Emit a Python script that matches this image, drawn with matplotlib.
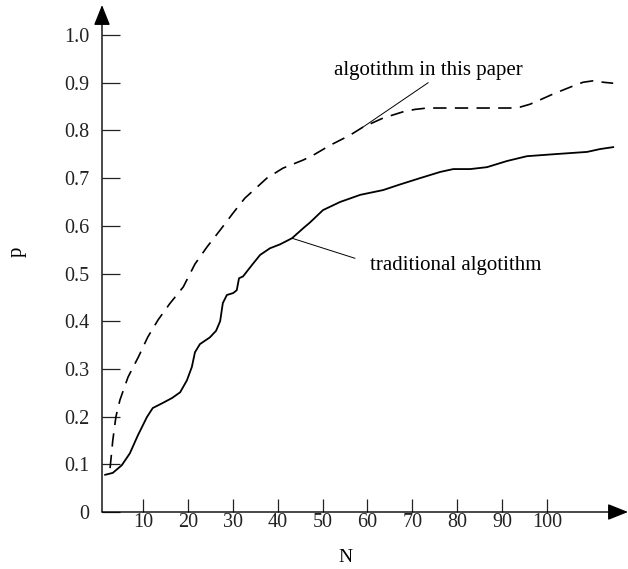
import matplotlib
matplotlib.use('Agg')
import matplotlib.pyplot as plt

plt.rcParams['font.family'] = ['Liberation Serif', 'DejaVu Serif']

# curve: algorithm in this paper (dashed)
n_paper = [2.7, 3.3, 4.0, 4.9, 6.7, 9.0, 11.1, 13.4, 16.0, 19.0, 21.6, 24.3, 27.2, 30.1,
           32.7, 35.4, 37.6, 41.2, 45.7, 47.9, 51.7, 56.1, 59.0, 63.5, 67.9, 70.5, 73.3,
           80.6, 88.9, 91.8, 94.0, 96.2, 98.4, 101.0, 103.6, 106.0, 108.0, 110.2, 112.5, 114.7]
p_paper = [0.092, 0.150, 0.200, 0.235, 0.283, 0.325, 0.367, 0.403, 0.437, 0.472, 0.520, 0.556, 0.591, 0.627,
           0.658, 0.681, 0.700, 0.721, 0.738, 0.748, 0.769, 0.790, 0.807, 0.826, 0.839, 0.844, 0.847,
           0.847, 0.847, 0.847, 0.849, 0.855, 0.864, 0.875, 0.885, 0.894, 0.901, 0.904, 0.901, 0.899]

# traditional algorithm (solid)
n_trad = [1.6, 3.3, 5.3, 7.1, 8.9, 10.9, 12.2, 14.3, 16.5, 18.3, 19.8, 20.9, 21.6, 22.7,
          24.9, 26.3, 27.2, 27.8, 28.7, 30.1, 30.9, 31.4, 32.3, 34.3, 36.1, 38.3, 40.5, 43.2,
          45.7, 47.2, 50.1, 53.9, 58.4, 63.5, 67.0, 71.7, 76.2, 79.1, 82.9, 86.6, 91.1, 95.5,
          101.3, 108.9, 111.8, 114.7]
p_trad = [0.078, 0.082, 0.098, 0.123, 0.161, 0.199, 0.218, 0.228, 0.239, 0.251, 0.276, 0.304, 0.335, 0.352,
          0.366, 0.380, 0.400, 0.438, 0.455, 0.459, 0.465, 0.490, 0.494, 0.518, 0.539, 0.553, 0.561, 0.574,
          0.595, 0.607, 0.633, 0.650, 0.665, 0.675, 0.686, 0.700, 0.713, 0.719, 0.719, 0.723, 0.736, 0.746,
          0.750, 0.755, 0.761, 0.765]

x_ticks = [10, 20, 30, 40, 50, 60, 70, 80, 90, 100]
y_ticks = [0, 0.1, 0.2, 0.3, 0.4, 0.5, 0.6, 0.7, 0.8, 0.9, 1.0]
y_labels = ['0', '0.1', '0.2', '0.3', '0.4', '0.5', '0.6', '0.7', '0.8', '0.9', '1.0']

fig = plt.figure(figsize=(6.28, 5.69), dpi=100)
ax = fig.add_axes([102/628, 57/569, 526/628, 507/569])
xmin, xmax = 0.9, 118.0
ymin, ymax = 0.0, 1.063
ax.set_xlim(xmin, xmax)
ax.set_ylim(ymin, ymax)
for s in ax.spines.values():
    s.set_visible(False)

ax.plot(n_trad, p_trad, color='black', lw=1.3, solid_joinstyle='round')
ax.plot(n_paper, p_paper, color='black', lw=1.2, dashes=(8, 5))

# axes with arrow heads
arr = dict(arrowstyle='-|>,head_length=1.25,head_width=0.5', color='black', lw=1.0,
           shrinkA=0, shrinkB=0, mutation_scale=10)
ax.annotate('', xy=(xmax, 0), xytext=(xmin, 0), arrowprops=arr, annotation_clip=False)
ax.annotate('', xy=(xmin, ymax), xytext=(xmin, 0), arrowprops=arr, annotation_clip=False)

ax.set_xticks(x_ticks)
ax.set_xticklabels([str(v) for v in x_ticks])
ax.set_yticks(y_ticks)
ax.set_yticklabels(y_labels)
ax.tick_params(axis='y', direction='in', length=13, width=0.9, pad=9, labelsize=14.5, colors='#222222')
ax.tick_params(axis='x', direction='in', length=9.5, width=0.9, pad=1, labelsize=14.5, colors='#222222')

# callouts
ax.plot([59.0, 73.5], [0.807, 0.900], color='black', lw=0.7)
ax.text(73.5, 0.925, 'algotithm in this paper', ha='center', va='center', fontsize=15)
ax.plot([43.2, 57.2], [0.574, 0.532], color='black', lw=0.7)
ax.text(60.6, 0.516, 'traditional algotithm', ha='left', va='center', fontsize=15)

fig.text(17/628, 1 - 252/569, 'p', rotation=90, ha='center', va='center', fontsize=15)
fig.text(345/628, 1 - 558/569, 'N', ha='center', va='center', fontsize=14)

fig.savefig('out.png', dpi=100)
